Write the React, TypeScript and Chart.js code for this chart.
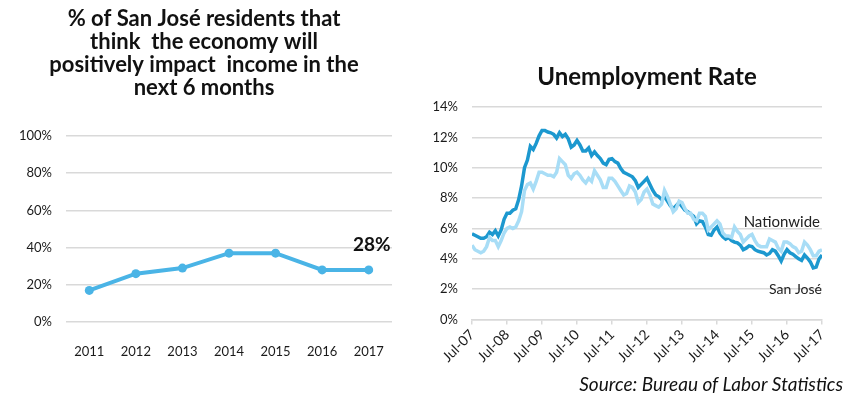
import React, { useEffect, useRef } from 'react';
import { Chart, registerables } from 'chart.js';

Chart.register(...registerables);

// ---------- Left panel data ----------
const surveyTitle = [
  '% of San José residents that',
  'think  the economy will',
  'positively impact  income in the',
  'next 6 months',
];
const surveyYears = ['2011', '2012', '2013', '2014', '2015', '2016', '2017'];
const surveyShare = [17, 26, 29, 37, 37, 28, 28];

// ---------- Right panel data ----------
const unemploymentTitle = 'Unemployment Rate';
const yearTicks = ['Jul-07', 'Jul-08', 'Jul-09', 'Jul-10', 'Jul-11', 'Jul-12', 'Jul-13', 'Jul-14', 'Jul-15', 'Jul-16', 'Jul-17'];
// monthly, Jul-07 .. Jul-17 (each row = Jul..Jun)
const nationwide = [
  4.9, 4.6, 4.5, 4.4, 4.5, 4.8, 5.4, 5.2, 5.2, 4.8, 5.2, 5.7,
  6.0, 6.1, 6.0, 6.1, 6.5, 7.1, 8.5, 8.9, 9.0, 8.6, 9.1, 9.7,
  9.7, 9.6, 9.5, 9.5, 9.4, 9.7, 10.6, 10.4, 10.2, 9.5, 9.3, 9.6,
  9.7, 9.5, 9.2, 9.0, 9.3, 9.1, 9.8, 9.5, 9.2, 8.7, 8.7, 9.3,
  9.3, 9.1, 8.8, 8.5, 8.2, 8.3, 8.8, 8.7, 8.4, 7.7, 7.9, 8.4,
  8.6, 8.2, 7.6, 7.5, 7.4, 7.6, 8.5, 8.1, 7.6, 7.1, 7.3, 7.8,
  7.7, 7.3, 7.0, 7.0, 6.6, 6.5, 7.0, 7.0, 6.8, 5.9, 6.1, 6.3,
  6.5, 6.3, 5.7, 5.5, 5.5, 5.4, 6.1, 5.8, 5.6, 5.1, 5.3, 5.5,
  5.6, 5.2, 4.9, 4.8, 4.8, 4.8, 5.3, 5.2, 5.1, 4.7, 4.5, 5.1,
  5.1, 5.0, 4.8, 4.7, 4.4, 4.5, 5.1, 4.9, 4.6, 4.2, 4.2, 4.5,
  4.6,
];
const sanJose = [
  5.65, 5.55, 5.45, 5.35, 5.35, 5.45, 5.75, 5.6, 5.85, 5.5, 5.9, 6.6,
  7.0, 7.0, 7.2, 7.3, 7.9, 8.8, 10.0, 10.5, 11.4, 11.2, 11.6, 12.1,
  12.45, 12.45, 12.35, 12.3, 12.2, 11.95, 12.3, 12.05, 12.2, 11.9, 11.35, 11.5,
  11.8, 11.5, 11.1, 11.1, 11.3, 10.8, 11.05, 10.8, 10.6, 10.3, 10.2, 10.55,
  10.6, 10.4, 10.3, 9.95, 9.7, 9.6, 9.5, 9.4, 9.15, 8.7, 8.9, 9.1,
  9.3, 8.9, 8.5, 8.2, 8.1, 7.9, 8.1, 7.8, 7.5, 7.3, 7.5, 7.7,
  7.45, 7.2, 7.1, 6.95, 6.8, 6.3, 6.5, 6.45, 6.1, 5.6, 5.55, 5.9,
  6.1, 5.7, 5.45, 5.3, 5.4, 5.2, 5.1, 5.05, 4.9, 4.6, 4.7, 4.85,
  4.8, 4.6, 4.5, 4.45, 4.4, 4.25, 4.35, 4.6, 4.5, 4.2, 3.85, 4.3,
  4.6, 4.4, 4.3, 4.15, 4.0, 3.9, 4.25, 4.05, 3.8, 3.4, 3.45, 4.0,
  4.25,
];
const seriesNames = ['Nationwide', 'San José'];
const sourceText = 'Source: Bureau of Labor Statistics';

const FONT = 'Lato';
const TEXT = '#1a1a1a';
const GRID = '#d9d9d9';

const lastValuePlugin = {
  id: 'lastValue',
  afterDatasetsDraw(chart: any) {
    const meta = chart.getDatasetMeta(0);
    const pt = meta.data[meta.data.length - 1];
    const ctx = chart.ctx;
    ctx.save();
    ctx.font = `bold 19px ${FONT}`;
    ctx.fillStyle = '#111';
    ctx.textAlign = 'center';
    ctx.textBaseline = 'middle';
    ctx.fillText(surveyShare[surveyShare.length - 1] + '%', pt.x + 3, pt.y - 25);
    ctx.restore();
  },
};

const seriesLabelPlugin = {
  id: 'seriesLabels',
  afterDatasetsDraw(chart: any) {
    const { ctx, chartArea, scales } = chart;
    const y = scales.y;
    ctx.save();
    ctx.font = `15px ${FONT}`;
    ctx.fillStyle = '#222';
    ctx.textAlign = 'right';
    ctx.textBaseline = 'middle';
    ctx.fillText(seriesNames[0], chartArea.right - 2, y.getPixelForValue(6.4));
    ctx.font = `14px ${FONT}`;
    ctx.fillText(seriesNames[1], chartArea.right, y.getPixelForValue(1.95));
    ctx.font = `italic 19px ${FONT}`;
    ctx.fillStyle = '#111';
    ctx.fillText(sourceText, chart.width - 10, 385);
    ctx.restore();
  },
};

export default function App() {
  const leftRef = useRef<HTMLCanvasElement>(null);
  const rightRef = useRef<HTMLCanvasElement>(null);

  useEffect(() => {
    const left = new Chart(leftRef.current as HTMLCanvasElement, {
      type: 'line',
      data: {
        labels: surveyYears,
        datasets: [
          {
            data: surveyShare,
            borderColor: '#4ab4e6',
            backgroundColor: '#4ab4e6',
            pointBackgroundColor: '#4ab4e6',
            pointBorderWidth: 0,
            pointRadius: 4.5,
            borderWidth: 4,
            tension: 0,
          },
        ],
      },
      options: {
        responsive: false,
        animation: false,
        devicePixelRatio: 1,
        layout: { padding: { left: 0, right: 18, top: 0, bottom: 0 } },
        plugins: {
          legend: { display: false },
          tooltip: { enabled: false },
          title: {
            display: true,
            text: surveyTitle,
            color: '#111',
            font: { family: FONT, size: 22, weight: 'bold', lineHeight: 1.05 },
            padding: { top: 7, bottom: 36.6 },
          },
        },
        scales: {
          x: {
            offset: true,
            grid: { display: false },
            border: { display: false },
            ticks: { color: TEXT, font: { family: FONT, size: 13 }, padding: 14 },
            afterFit: (s: any) => { s.height = 79; },
          },
          y: {
            min: 0,
            max: 100,
            ticks: {
              stepSize: 20,
              color: TEXT,
              font: { family: FONT, size: 13 },
              padding: 14,
              callback: (v: any) => v + '%',
            },
            grid: { color: GRID, lineWidth: 1.5, drawTicks: false },
            border: { display: false },
            afterFit: (s: any) => { s.width = 50; },
          },
        },
      },
      plugins: [lastValuePlugin],
    } as any);

    const right = new Chart(rightRef.current as HTMLCanvasElement, {
      type: 'line',
      data: {
        datasets: [
          {
            label: seriesNames[0],
            data: nationwide.map((v, i) => ({ x: i, y: v })),
            borderColor: '#a8ddf6',
            borderWidth: 3.5,
            pointRadius: 0,
            tension: 0,
          },
          {
            label: seriesNames[1],
            data: sanJose.map((v, i) => ({ x: i, y: v })),
            borderColor: '#1c98cf',
            borderWidth: 3.5,
            pointRadius: 0,
            tension: 0,
          },
        ],
      },
      options: {
        responsive: false,
        animation: false,
        devicePixelRatio: 1,
        layout: { padding: { left: 0, right: 31, top: 0, bottom: 0 } },
        plugins: {
          legend: { display: false },
          tooltip: { enabled: false },
          title: {
            display: true,
            fullSize: false,
            text: unemploymentTitle,
            color: '#111',
            font: { family: FONT, size: 24, weight: 'bold', lineHeight: 1.2 },
            padding: { top: 62.6, bottom: 15.6 },
          },
        },
        scales: {
          x: {
            type: 'linear',
            min: 0,
            max: 120,
            ticks: {
              stepSize: 12,
              autoSkip: false,
              minRotation: 45,
              maxRotation: 45,
              color: TEXT,
              font: { family: FONT, size: 14 },
              padding: 2,
              callback: (v: any) => yearTicks[Math.round(v / 12)] ?? '',
            },
            grid: { drawOnChartArea: false, drawTicks: true, tickLength: 5, color: GRID, lineWidth: 1.5 },
            border: { display: true, color: GRID, width: 1.5 },
            afterFit: (s: any) => { s.height = 81.5; },
          },
          y: {
            min: 0,
            max: 14,
            ticks: {
              stepSize: 2,
              color: TEXT,
              font: { family: FONT, size: 13 },
              padding: 14,
              callback: (v: any) => v + '%',
            },
            grid: { color: GRID, lineWidth: 1.5, drawTicks: false },
            border: { display: false },
            afterFit: (s: any) => { s.width = 62; },
          },
        },
      },
      plugins: [seriesLabelPlugin],
    } as any);

    return () => {
      left.destroy();
      right.destroy();
    };
  }, []);

  return (
    <div style={{ position: 'fixed', left: 0, top: 0, width: 853, height: 401, background: '#fff' }}>
      <canvas ref={leftRef} width={394} height={401} style={{ position: 'absolute', left: 16, top: 0 }} />
      <canvas ref={rightRef} width={443} height={401} style={{ position: 'absolute', left: 410, top: 0 }} />
    </div>
  );
}
